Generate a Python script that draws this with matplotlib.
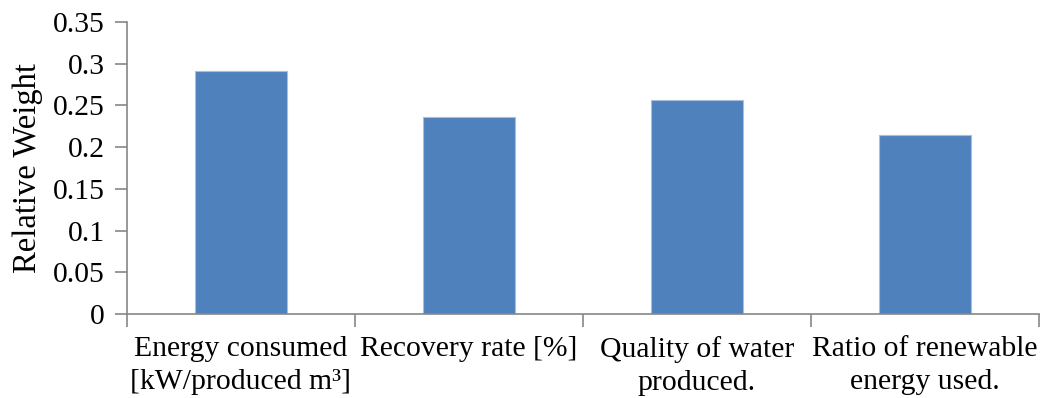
import matplotlib
matplotlib.use("Agg")
import matplotlib.pyplot as plt
from matplotlib.ticker import FixedLocator

categories = [
    "Energy consumed\n[kW/produced m\u00b3]",
    "Recovery rate [%]",
    "Quality of water\nproduced.",
    "Ratio of renewable\nenergy used.",
]
weights = [0.291, 0.2365, 0.2565, 0.2146]
y_ticks = [0, 0.05, 0.1, 0.15, 0.2, 0.25, 0.3, 0.35]
y_tick_labels = ["0", "0.05", "0.1", "0.15", "0.2", "0.25", "0.3", "0.35"]

plt.rcParams["font.family"] = ["Liberation Serif", "DejaVu Serif"]

W, H = 1041, 398
fig = plt.figure(figsize=(W / 100, H / 100), dpi=100)
ax = fig.add_axes([127 / W, 1 - 314 / H, (1039 - 127) / W, (314 - 22) / H])

axis_color = "#868686"
x = list(range(len(categories)))
ax.bar(x, weights, width=0.4, color="#4F81BD", edgecolor="#A7BFDE", linewidth=0.8, zorder=2)

ax.set_xlim(-0.5, len(categories) - 0.5)
ax.set_ylim(0, 0.35)
ax.set_yticks(y_ticks)
ax.set_yticklabels(y_tick_labels)
ax.set_xticks(x)
ax.set_xticklabels(categories, fontsize=21.3, linespacing=1.32)
ax.xaxis.set_minor_locator(FixedLocator([i - 0.5 for i in range(len(categories) + 1)]))

ax.tick_params(axis="x", which="major", length=0, pad=16)
ax.tick_params(axis="x", which="minor", length=9, width=1.2, color=axis_color, direction="out")
ax.tick_params(axis="y", length=9, width=1.2, color=axis_color, direction="out", labelsize=21.3, pad=7)

for side in ("top", "right"):
    ax.spines[side].set_visible(False)
for side in ("left", "bottom"):
    ax.spines[side].set_color(axis_color)
    ax.spines[side].set_linewidth(1.2)

ax.set_ylabel("Relative Weight", fontsize=23.5)
ax.yaxis.set_label_coords(-84 / (1039 - 127), 0.5)

fig.savefig("out.png", dpi=100)
